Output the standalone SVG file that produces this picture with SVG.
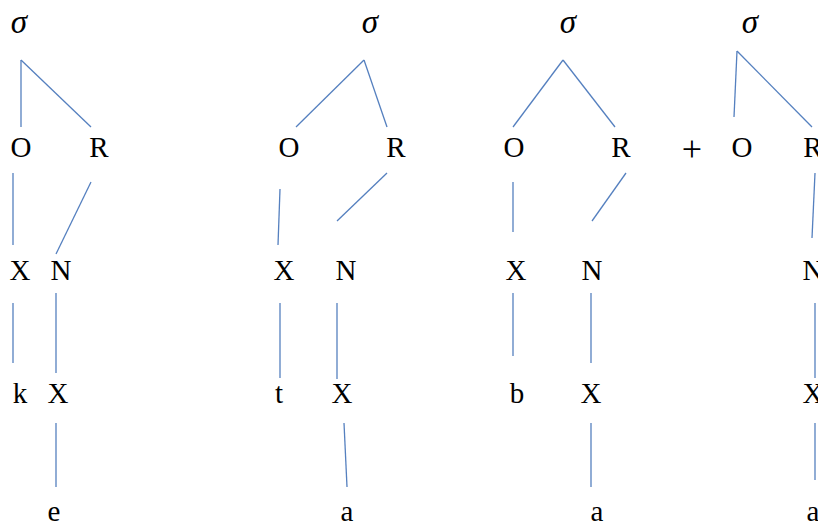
<svg xmlns="http://www.w3.org/2000/svg" width="818" height="525" viewBox="0 0 818 525">
<style>
text{font-family:"Liberation Serif","DejaVu Serif",serif;font-size:29px;fill:#000;text-anchor:middle}
.s{font-style:italic;font-size:33px}
.p{font-size:36px}
#edges line{stroke:#5580bf;stroke-width:1.3;fill:none}
</style>
<rect width="818" height="525" fill="#fff"/>
<g id="edges">
<line x1="21" y1="60" x2="21" y2="127"/>
<line x1="21" y1="60" x2="91" y2="127"/>
<line x1="13" y1="173" x2="13" y2="245"/>
<line x1="91" y1="182" x2="56" y2="254"/>
<line x1="13" y1="303" x2="13" y2="363"/>
<line x1="56" y1="293" x2="56" y2="373"/>
<line x1="56" y1="423" x2="56" y2="487"/>
<line x1="364" y1="60" x2="296" y2="127"/>
<line x1="364" y1="60" x2="387" y2="127"/>
<line x1="280" y1="189" x2="278" y2="245"/>
<line x1="387" y1="173" x2="337" y2="221"/>
<line x1="280" y1="303" x2="280" y2="378"/>
<line x1="337" y1="303" x2="337" y2="379"/>
<line x1="344" y1="423" x2="347" y2="487"/>
<line x1="563" y1="60" x2="513" y2="127"/>
<line x1="563" y1="60" x2="615" y2="127"/>
<line x1="513" y1="182" x2="513" y2="232"/>
<line x1="626" y1="173" x2="592" y2="221"/>
<line x1="513" y1="293" x2="513" y2="356"/>
<line x1="591" y1="293" x2="591" y2="363"/>
<line x1="591" y1="423" x2="591" y2="487"/>
<line x1="737" y1="51" x2="734" y2="117"/>
<line x1="737" y1="51" x2="812" y2="127"/>
<line x1="815" y1="173" x2="812" y2="238"/>
<line x1="815" y1="303" x2="815" y2="378"/>
<line x1="815" y1="423" x2="815" y2="480"/>
</g>
<g id="t1-sigma"><text class="s" x="19" y="33">σ</text></g>
<g id="t1-O"><text x="21" y="157">O</text></g>
<g id="t1-R"><text x="99" y="157">R</text></g>
<g id="t1-X"><text x="20" y="280">X</text></g>
<g id="t1-N"><text x="61" y="280">N</text></g>
<g id="t1-k"><text x="20" y="403">k</text></g>
<g id="t1-X2"><text x="58" y="403">X</text></g>
<g id="t1-e"><text x="54" y="521">e</text></g>
<g id="t2-sigma"><text class="s" x="370" y="33">σ</text></g>
<g id="t2-O"><text x="289" y="157">O</text></g>
<g id="t2-R"><text x="396" y="157">R</text></g>
<g id="t2-X"><text x="284" y="280">X</text></g>
<g id="t2-N"><text x="346" y="280">N</text></g>
<g id="t2-t"><text x="279" y="403">t</text></g>
<g id="t2-X2"><text x="342" y="403">X</text></g>
<g id="t2-a"><text x="347" y="521">a</text></g>
<g id="t3-sigma"><text class="s" x="568" y="33">σ</text></g>
<g id="t3-O"><text x="514" y="157">O</text></g>
<g id="t3-R"><text x="621" y="157">R</text></g>
<g id="t3-X"><text x="516" y="280">X</text></g>
<g id="t3-N"><text x="592" y="280">N</text></g>
<g id="t3-b"><text x="517" y="403">b</text></g>
<g id="t3-X2"><text x="591" y="403">X</text></g>
<g id="t3-a"><text x="597" y="521">a</text></g>
<g id="plus"><text class="p" x="692" y="161">+</text></g>
<g id="t4-sigma"><text class="s" x="750" y="33">σ</text></g>
<g id="t4-O"><text x="742" y="157">O</text></g>
<g id="t4-R"><text x="813" y="157">R</text></g>
<g id="t4-N"><text x="813" y="280">N</text></g>
<g id="t4-X"><text x="813" y="403">X</text></g>
<g id="t4-a"><text x="813" y="521">a</text></g>
</svg>
